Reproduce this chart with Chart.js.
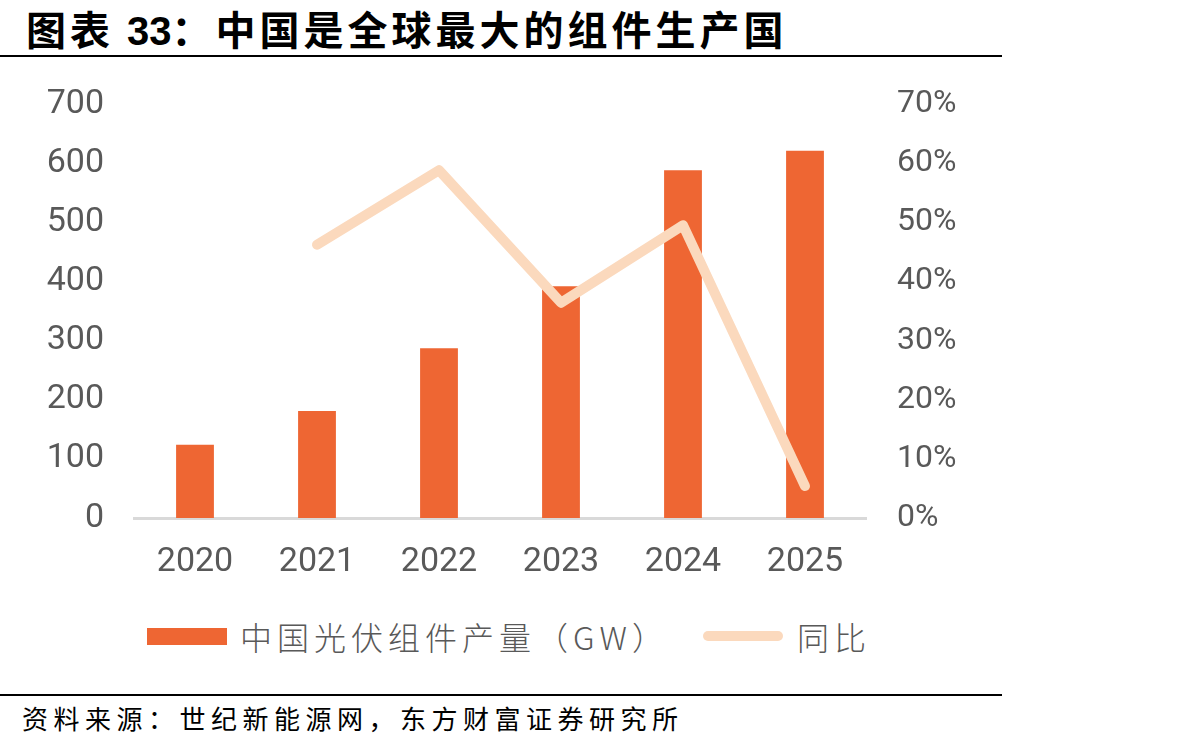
<!DOCTYPE html>
<html><head><meta charset="utf-8">
<script src="https://cdn.jsdelivr.net/npm/chart.js@4.4.1/dist/chart.umd.min.js"></script>
<style>
html,body{margin:0;padding:0;background:#fff;width:1192px;height:748px;overflow:hidden;position:relative;font-family:"Noto Sans CJK SC",sans-serif;}
#title{position:absolute;left:26px;top:4px;font-size:40px;font-weight:700;color:#000;letter-spacing:4px;line-height:48px;white-space:nowrap;}
#title .num{font-family:"Liberation Sans",Arial,sans-serif;font-weight:700;letter-spacing:0;}
.hr{position:absolute;left:0;width:1002px;background:#000;}
#wrap{position:absolute;left:0;top:0;width:1000px;height:600px;}
.leg{position:absolute;top:612px;font-size:32px;color:#595959;letter-spacing:5px;line-height:48px;white-space:nowrap;font-weight:300;}
#src{position:absolute;left:22px;top:700px;font-size:26px;color:#000;letter-spacing:5.5px;line-height:36px;white-space:nowrap;}
</style></head><body>
<div id="title">图表 <span class="num">33</span>：中国是全球最大的组件生产国</div>
<div class="hr" style="top:55px;height:2px;"></div>
<div id="wrap"><canvas id="c" width="1000" height="600"></canvas></div>
<div style="position:absolute;left:147px;top:628px;width:80px;height:17px;background:#EE6633;"></div>
<div class="leg" style="left:240px;">中国光伏组件产量（GW）</div>
<div style="position:absolute;left:703px;top:631px;width:80px;height:10px;border-radius:5px;background:#FBD9BD;"></div>
<div class="leg" style="left:797px;">同比</div>
<div class="hr" style="top:694px;height:2px;"></div>
<div id="src">资料来源：世纪新能源网，东方财富证券研究所</div>
<script>
const categories = ["2020","2021","2022","2023","2024","2025"];
const production = [124, 181, 287, 392, 588, 621];
const yoy = [null, 0.462, 0.588, 0.364, 0.495, 0.054];
const leftTicks = [0,100,200,300,400,500,600,700];
const rightTicks = ["0%","10%","20%","30%","40%","50%","60%","70%"];

const tickFont = {family:"Roboto, 'Liberation Sans', sans-serif", size:34, weight:400};
const rightFont = {family:"Roboto, 'Liberation Sans', sans-serif", size:32, weight:400};
new Chart(document.getElementById('c'), {
  data:{
    labels:categories,
    datasets:[
      {type:'line', label:'同比', data:yoy, yAxisID:'y2', borderColor:'#FBD9BD', borderWidth:10,
       borderCapStyle:'round', borderJoinStyle:'round', pointRadius:0, pointHoverRadius:0, tension:0, order:0},
      {type:'bar', label:'中国光伏组件产量（GW）', data:production, yAxisID:'y', backgroundColor:'#EE6633',
       barPercentage:0.31, categoryPercentage:1, order:1}
    ]
  },
  options:{
    responsive:false, animation:false, devicePixelRatio:1,
    layout:{padding:{top:104,bottom:0,left:0,right:0}},
    plugins:{legend:{display:false}, tooltip:{enabled:false}},
    scales:{
      x:{
        grid:{display:false, drawTicks:false},
        border:{display:true, color:'#D9D9D9', width:3},
        ticks:{color:'#595959', font:tickFont, padding:24, maxRotation:0},
        afterFit:(s)=>{s.height=82;}
      },
      y:{
        position:'left', min:0, max:700,
        afterBuildTicks:(s)=>{s.ticks=leftTicks.map(v=>({value:v}));},
        grid:{display:false, drawTicks:false},
        border:{display:false},
        ticks:{color:'#595959', font:tickFont, padding:30},
        afterFit:(s)=>{s.width=134;}
      },
      y2:{
        position:'right', min:0, max:0.7,
        afterBuildTicks:(s)=>{s.ticks=rightTicks.map((t,i)=>({value:i/10}));},
        grid:{display:false, drawTicks:false},
        border:{display:false},
        ticks:{color:'#595959', font:rightFont, padding:31, callback:(v,i)=>rightTicks[i]},
        afterFit:(s)=>{s.width=134;}
      }
    }
  }
});
</script>
</body></html>
